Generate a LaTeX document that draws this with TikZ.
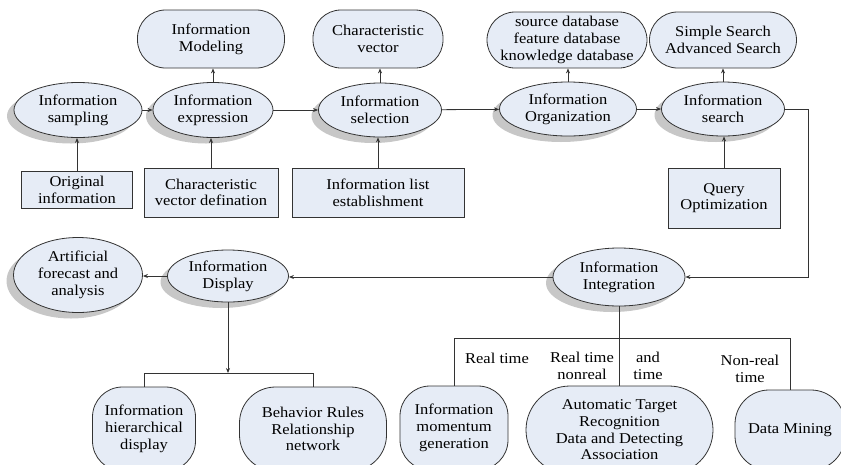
\documentclass[tikz,border=0pt]{standalone}
\usepackage{fontspec}
\setmainfont{Liberation Serif}[FakeStretch=1.1]
\usetikzlibrary{shapes.geometric,shadows,arrows.meta}

\definecolor{nodefill}{HTML}{E6ECF6}
\definecolor{linecol}{HTML}{333333}

\begin{document}
\begin{tikzpicture}[x=1pt,y=-1pt,
  every node/.style={font=\fontsize{15}{16.7}\selectfont, align=center, text=black},
  conn/.style={draw=linecol, line width=0.8pt},
  arr/.style={conn, -{Stealth[length=5pt,width=4pt]}},
  oval/.style={ellipse, draw=linecol, line width=0.8pt, fill=nodefill, inner sep=0pt,
    drop shadow={shadow xshift=-7pt, shadow yshift=-6pt, fill=black!22, opacity=1}},
  pill/.style={rectangle, rounded corners=28pt, draw=linecol, line width=0.8pt, fill=nodefill, inner sep=0pt},
  plainbox/.style={rectangle, draw=linecol, line width=0.8pt, fill=nodefill, inner sep=0pt},
  lowpill/.style={rectangle, draw=linecol, line width=0.8pt, fill=nodefill, inner sep=0pt},
  lbl/.style={inner sep=0pt}
]
\useasboundingbox (0,0) rectangle (841,464);
\clip (0,0) rectangle (841,464);

% upper processing chain
\node[oval, minimum width=128pt, minimum height=55pt] (samp) at (78,110) {Information\\sampling};
\node[oval, minimum width=120pt, minimum height=55pt] (expr) at (213,110) {Information\\expression};
\node[oval, minimum width=123pt, minimum height=54pt] (sel) at (380,110) {Information\\selection};
\node[oval, minimum width=137pt, minimum height=54pt] (org) at (568,109) {Information\\Organization};
\node[oval, minimum width=123pt, minimum height=54pt] (srch) at (723,109) {Information\\search};

% results on top
\node[pill, minimum width=147pt, minimum height=58pt] (model) at (211,39) {Information\\Modeling};
\node[pill, minimum width=130pt, minimum height=58pt] (cvec) at (378,39) {Characteristic\\vector};
\node[pill, minimum width=160pt, minimum height=56pt] (db) at (567,40) {source database\\feature database\\knowledge database};
\node[pill, minimum width=147pt, minimum height=56pt] (search2) at (723,40) {Simple Search\\Advanced Search};

% inputs below
\node[plainbox, minimum width=111pt, minimum height=37pt] (orig) at (77,190) {Original\\information};
\node[plainbox, minimum width=134pt, minimum height=49pt] (cvdef) at (211,192.5) {Characteristic\\vector defination};
\node[plainbox, minimum width=172pt, minimum height=49pt] (ilist) at (378,192.5) {Information list\\establishment};
\node[plainbox, minimum width=112pt, minimum height=60pt] (query) at (724,198) {Query\\Optimization};

% second row
\node[oval, minimum width=132pt, minimum height=58pt] (integ) at (619,277) {Information\\Integration};
\node[oval, minimum width=121pt, minimum height=52pt] (disp) at (228,276) {Information\\Display};
\node[oval, minimum width=129pt, minimum height=75pt] (art) at (78,275) {Artificial\\forecast and\\analysis};

% bottom row
\node[lowpill, rounded corners=30pt, minimum width=103pt, minimum height=84pt] (hier) at (144,429) {Information\\hierarchical\\display};
\node[lowpill, rounded corners=36pt, minimum width=147pt, minimum height=84pt] (beh) at (313,429) {Behavior Rules\\Relationship\\network};
\node[lowpill, rounded corners=30pt, minimum width=108pt, minimum height=84pt] (mom) at (454,428) {Information\\momentum\\generation};
\node[lowpill, rounded corners=44pt, minimum width=187pt, minimum height=88pt] (atr) at (619.5,430) {Automatic Target\\Recognition\\Data and Detecting\\Association};
\node[lowpill, rounded corners=34pt, minimum width=110pt, minimum height=80pt] (dm) at (790,430) {Data Mining};

% branch labels
\node[lbl] (l1) at (497,358) {Real time};
\node[lbl] (l2) at (582,366) {Real time\\nonreal};
\node[lbl] (l3) at (648,366) {and\\time};
\node[lbl] (l4) at (750,369) {Non-real\\time};

% chain arrows
\draw[arr] (samp) -- (expr);
\draw[arr] (expr) -- (sel);
\draw[arr] (sel) -- (org);
\draw[arr] (org) -- (srch);

\draw[arr] (orig.north) -- (orig.north |- samp.south);
\draw[arr] (cvdef.north) -- (cvdef.north |- expr.south);
\draw[arr] (ilist.north) -- (ilist.north |- sel.south);
\draw[arr] (query.north) -- (query.north |- srch.south);

\draw[arr] (expr.north) -- (expr.north |- model.south);
\draw[arr] (sel.north) -- (sel.north |- cvec.south);
\draw[arr] (org.north) -- (org.north |- db.south);
\draw[arr] (srch.north) -- (srch.north |- search2.south);

% loop back to integration
\coordinate (turn) at (808,0);
\draw[arr] (srch.east) -- (srch.east -| turn) -- (turn |- integ.east) -- (integ.east);
\draw[arr] (integ.west) -- (integ.west -| disp.east);
\draw[arr] (disp.west) -- (disp.west -| art.east);

% display branches
\coordinate (dsplit) at (228,373);
\draw[arr] (disp.south) -- (dsplit);
\draw[conn] (hier.north) -- (hier.north |- dsplit) -- (beh.north |- dsplit) -- (beh.north);

% integration branches
\coordinate (isplit) at (619,338);
\draw[conn] (integ.south) -- (integ.south |- atr.north);
\draw[conn] (mom.north) -- (mom.north |- isplit) -- (dm.north |- isplit) -- (dm.north);
\end{tikzpicture}
\end{document}
